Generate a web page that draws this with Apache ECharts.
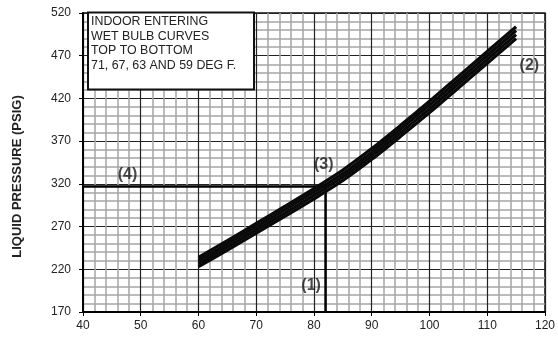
<!DOCTYPE html>
<html>
<head>
<meta charset="utf-8">
<script src="https://cdn.jsdelivr.net/npm/echarts@6/dist/echarts.min.js"></script>
<style>
  html, body { margin: 0; padding: 0; background: #fff; }
  #chart { width: 558px; height: 339px; }
</style>
</head>
<body>
<div id="chart"></div>
<script>
// outdoor temp (deg F) along the curves
const tempF = [60, 65, 70, 75, 80, 85, 90, 95, 100, 105, 110, 115]
// liquid pressure per indoor wet bulb, top to bottom
const wb71 = [234, 253.5, 273.7, 293.9, 314.5, 336.2, 361.3, 388.5, 416.6, 445.8, 474.9, 504]
const wb67 = [230.3, 249.9, 269.9, 290, 310.5, 332, 357.1, 384.2, 412.2, 441.3, 470.3, 499.4]
const wb63 = [226.7, 246.2, 266.1, 286, 306.5, 328, 352.9, 379.9, 407.8, 436.8, 465.7, 494.7]
const wb59 = [223.1, 242.5, 262.3, 282.2, 302.5, 323.9, 348.7, 375.6, 403.4, 432.3, 461.1, 490]
const curves = [wb71, wb67, wb63, wb59]

// example reading: (1) temp -> (3) curve -> (4) pressure
const readTemp = 82
const readPsig = 317

const noteLabels = ['(1)', '(2)', '(3)', '(4)']
const noteX = [79.5, 117.3, 81.7, 47.7]
const noteY = [201, 459, 343, 330.5]

const boxLines = ['INDOOR ENTERING', 'WET BULB CURVES', 'TOP TO BOTTOM', '71, 67, 63 AND 59 DEG F.']

const font = '"Liberation Sans", Arial, sans-serif'
const chart = echarts.init(document.getElementById('chart'))

const curveSeries = curves.map(vals => ({
  type: 'line',
  data: tempF.map((t, i) => [t, vals[i]]),
  symbol: 'none',
  smooth: 0.3,
  lineStyle: { color: '#0a0a0a', width: 3.2 },
  z: 5
}))

chart.setOption({
  animation: false,
  grid: {
    left: 83, right: 11, top: 13, bottom: 27,
    show: true, borderColor: '#111', borderWidth: 1.5
  },
  xAxis: {
    type: 'value',
    min: 40, max: 120, interval: 10,
    axisLine: { lineStyle: { color: '#000', width: 2 } },
    axisTick: { show: true, length: 4, lineStyle: { color: '#000' } },
    axisLabel: { color: '#222', fontSize: 12, fontFamily: font, margin: 8 },
    splitLine: { lineStyle: { color: '#222', width: 1.2 } },
    minorTick: { show: false, splitNumber: 5 },
    minorSplitLine: { show: true, lineStyle: { color: '#a5a5a5', width: 1.5 } }
  },
  yAxis: {
    type: 'value',
    min: 170, max: 520, interval: 50,
    axisLine: { show: true, lineStyle: { color: '#000', width: 2 } },
    axisTick: { show: true, length: 4, lineStyle: { color: '#000' } },
    axisLabel: { color: '#222', fontSize: 12, fontFamily: font, margin: 12 },
    splitLine: { lineStyle: { color: '#222', width: 1.2 } },
    minorTick: { show: false, splitNumber: 5 },
    minorSplitLine: { show: true, lineStyle: { color: '#a5a5a5', width: 1.5 } }
  },
  series: [
    ...curveSeries,
    {
      type: 'line',
      data: [[40, readPsig], [readTemp, readPsig]],
      symbol: 'none',
      lineStyle: { color: '#000', width: 2.5 },
      z: 4
    },
    {
      type: 'line',
      data: [[readTemp, 170], [readTemp, readPsig]],
      symbol: 'none',
      lineStyle: { color: '#000', width: 2.5 },
      z: 4
    },
    {
      type: 'scatter',
      symbolSize: 0,
      data: noteLabels.map((n, i) => ({ name: n, value: [noteX[i], noteY[i]] })),
      label: {
        show: true,
        position: 'inside',
        formatter: p => p.name,
        color: '#1a1a1a',
        fontSize: 16,
        fontWeight: 'bold',
        fontFamily: font
      },
      z: 6
    }
  ],
  graphic: [
    {
      type: 'text',
      x: 17.5, y: 176.5,
      rotation: Math.PI / 2,
      style: {
        text: 'LIQUID PRESSURE (PSIG)',
        font: 'bold 13px ' + font,
        fill: '#222',
        align: 'center',
        verticalAlign: 'middle'
      }
    },
    {
      type: 'rect',
      shape: { x: 88, y: 12.5, width: 166, height: 77 },
      style: { fill: '#fff', stroke: '#111', lineWidth: 2 },
      z: 10
    },
    {
      type: 'text',
      x: 91, y: 14.5,
      style: {
        text: boxLines.join('\n'),
        font: '12.4px ' + font,
        lineHeight: 14.5,
        fill: '#222'
      },
      z: 11
    }
  ]
})
</script>
</body>
</html>
